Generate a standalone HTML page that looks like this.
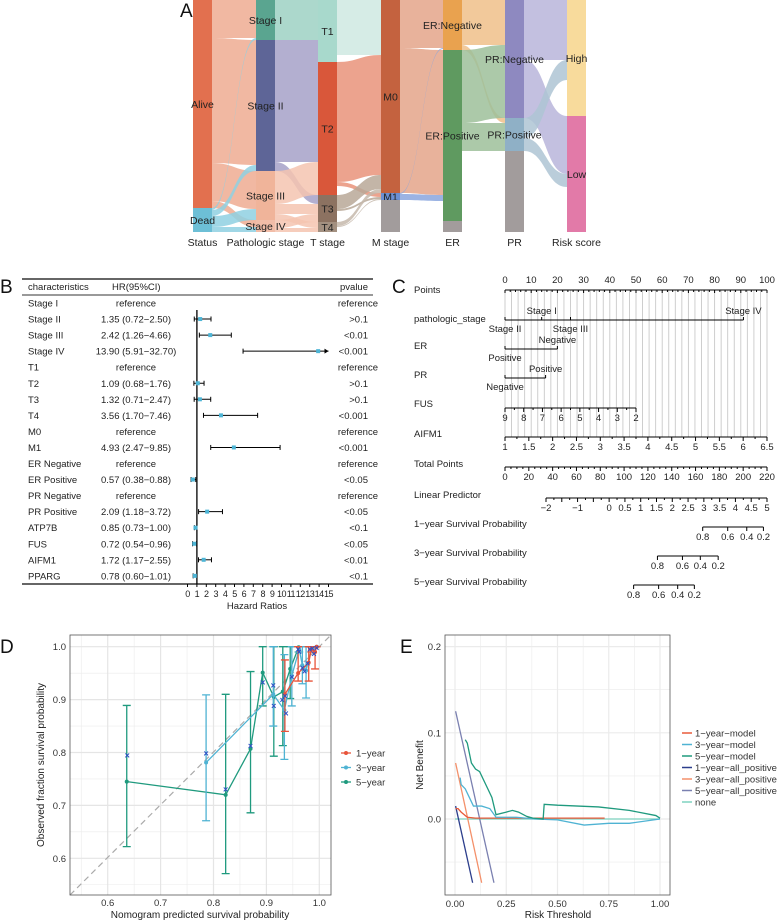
<!DOCTYPE html>
<html><head><meta charset="utf-8">
<style>
html,body{margin:0;padding:0;background:#fff}
svg{display:block;font-family:"Liberation Sans",Arial,sans-serif}
</style></head>
<body>
<svg id="fig" width="784" height="922" viewBox="0 0 784 922" xmlns="http://www.w3.org/2000/svg">
<g id="pA"></g>
<g id="pB"></g>
<g id="pC"></g>
<g id="pD"></g>
<g id="pE"></g>
</svg>
<script>
// ---------- Panel A data ----------
const sankeyColumns = ["Status","Pathologic stage","T stage","M stage","ER","PR","Risk score"];
const sankeyNodes = [
 [["Alive",208],["Dead",24]],
 [["Stage I",40],["Stage II",131],["Stage III",49],["Stage IV",12]],
 [["T1",62],["T2",133],["T3",27],["T4",10]],
 [["M0",193],["M1",7],["",32]],
 [["ER:Negative",50],["ER:Positive",171],["",11]],
 [["PR:Negative",118],["PR:Positive",33],["",81]],
 [["High",116],["Low",116]]
];
const sankeyFlows = [
 [[0,0,38],[0,1,125],[0,2,38],[0,3,7],[1,0,2],[1,1,6],[1,2,11],[1,3,5]],
 [[0,0,40],[1,0,22],[1,1,100],[1,2,9],[2,1,33],[2,2,10],[2,3,6],[3,2,8],[3,3,4]],
 [[0,0,55],[0,2,7],[1,0,120],[1,1,4],[1,2,9],[2,0,14],[2,1,2],[2,2,11],[3,0,4],[3,1,1],[3,2,5]],
 [[0,0,48],[0,1,145],[1,0,1],[1,1,6],[2,0,1],[2,1,20],[2,2,11]],
 [[0,0,45],[0,1,5],[1,0,73],[1,1,28],[1,2,70],[2,2,11]],
 [[0,0,60],[0,1,58],[1,0,20],[1,1,13],[2,0,36],[2,1,45]]
];
// ---------- Panel B data ----------
const forestNames = ["Stage I","Stage II","Stage III","Stage IV","T1","T2","T3","T4","M0","M1","ER Negative","ER Positive","PR Negative","PR Positive","ATP7B","FUS","AIFM1","PPARG"];
const forestHR = [null,1.35,2.42,13.90,null,1.09,1.32,3.56,null,4.93,null,0.57,null,2.09,0.85,0.72,1.72,0.78];
const forestLo = [null,0.72,1.26,5.91,null,0.68,0.71,1.70,null,2.47,null,0.38,null,1.18,0.73,0.54,1.17,0.60];
const forestHi = [null,2.50,4.66,32.70,null,1.76,2.47,7.46,null,9.85,null,0.88,null,3.72,1.00,0.96,2.55,1.01];
const forestP = ["reference",">0.1","<0.01","<0.001","reference",">0.1",">0.1","<0.001","reference","<0.001","reference","<0.05","reference","<0.05","<0.1","<0.05","<0.01","<0.1"];
const forestTicks = [0,1,2,3,4,5,6,7,8,9,10,11,12,13,14,15];
// ---------- Panel C data ----------
const stageLevels = ["Stage I","Stage II","Stage III","Stage IV"];
const stagePoints = [14,0,25,91];
const erLevels = ["Negative","Positive"], erPoints = [20,0];
const prLevels = ["Positive","Negative"], prPoints = [15.5,0];
const fusTicks = [9,8,7,6,5,4,3,2];
const aifm1Ticks = [1,1.5,2,2.5,3,3.5,4,4.5,5,5.5,6,6.5];
const totalTicks = [0,20,40,60,80,100,120,140,160,180,200,220];
const lpTicks = [-2,-1,0,0.5,1,1.5,2,2.5,3,3.5,4,4.5,5];
const survTicks = [0.8,0.6,0.4,0.2];
const surv1TP = [166,187,203,217];
const surv3TP = [128,149,164,179];
const surv5TP = [108,129,145,159];
// ---------- Panel D data ----------
const y5Pred = [0.636,0.823,0.870,0.893,0.914,0.931,0.945,0.961];
const y5Obs  = [0.745,0.720,0.807,0.951,0.905,0.915,0.958,0.999];
const y5Lo   = [0.622,0.571,0.686,0.888,0.793,0.813,0.902,0.990];
const y5Hi   = [0.889,0.910,0.953,1.000,1.000,1.000,1.000,1.000];
const y3Pred = [0.786,0.913,0.934,0.948,0.962,0.968,0.975,0.985,0.995];
const y3Obs  = [0.781,0.910,0.880,0.945,0.995,0.965,0.955,0.995,1.000];
const y3Lo   = [0.671,0.850,0.787,0.888,0.990,0.930,0.903,0.990,1.000];
const y3Hi   = [0.909,1.000,0.985,1.000,1.000,1.000,1.000,1.000,1.000];
const y1Pred = [0.935,0.960,0.980,0.985,0.992,0.995];
const y1Obs  = [0.910,0.950,0.970,0.995,0.990,1.000];
const y1Lo   = [0.840,0.935,0.935,0.990,0.958,1.000];
const y1Hi   = [0.975,1.000,1.000,1.000,1.000,1.000];
const corrX = [0.637,0.786,0.823,0.870,0.893,0.913,0.914,0.930,0.935,0.937,0.948,0.960,0.962,0.968,0.972,0.978,0.982,0.987,0.990,0.995];
const corrY = [0.794,0.798,0.730,0.812,0.932,0.927,0.888,0.899,0.907,0.874,0.943,0.995,0.990,0.960,0.953,0.968,0.995,0.997,0.986,0.998];
// ---------- Panel E data ----------
const dcaNames = ["1-year-model","3-year-model","5-year-model","1-year-all_positive","3-year-all_positive","5-year-all_positive","none"];
const m1X = [0.003,0.015,0.03,0.06,0.1,0.73], m1Y = [0.012,0.012,0.008,0.002,0.001,0.001];
const m3X = [0.025,0.03,0.05,0.07,0.09,0.13,0.17,0.2,0.3,0.39,0.5,0.63,0.75,0.85,1.0];
const m3Y = [0.048,0.040,0.035,0.025,0.015,0.015,0.012,0.002,0.002,0.000,-0.001,-0.007,-0.005,-0.005,0.0];
const m5X = [0.05,0.06,0.08,0.1,0.12,0.15,0.18,0.2,0.25,0.28,0.31,0.35,0.38,0.43,0.435,0.5,0.7,0.85,0.98,1.0];
const m5Y = [0.092,0.088,0.065,0.058,0.055,0.040,0.025,0.005,0.008,0.010,0.008,0.003,0.001,0.0,0.017,0.016,0.014,0.010,0.004,0.001];
const a1X = [0.003,0.086], a1Y = [0.015,-0.074];
const a3X = [0.003,0.13], a3Y = [0.065,-0.074];
const a5X = [0.003,0.19], a5Y = [0.125,-0.074];
const noneX = [0,1], noneY = [0,0];

const NS="http://www.w3.org/2000/svg";
function mk(parent,tag,attrs,text){const e=document.createElementNS(NS,tag);for(const k in attrs)e.setAttribute(k,attrs[k]);if(text!==undefined)e.textContent=text;parent.appendChild(e);return e;}
const pA=document.getElementById('pA'),pB=document.getElementById('pB'),pC=document.getElementById('pC'),pD=document.getElementById('pD'),pE=document.getElementById('pE');

// panel letters
[["A",180,17,pA],["B",0,293,pB],["C",392,293,pC],["D",0,653,pD],["E",400,653,pE]].forEach(l=>{
 const t=mk(l[3],'text',{x:l[1],y:l[2],'font-size':19,fill:'#111'},l[0]);
 
 
});

// ---------- Panel A ----------
(function(){
 const colX=[193,256,318,381,443,505,567], bw=19, top=0;
 const nodeColors=[["#e2704f","#6dbfd6"],["#5aa590","#5e6597","#f0b49a","#f2bda8"],["#a8d9cc","#d9573a","#8c7261","#a39080"],["#c4623f","#6b8fd2","#a29c9c"],["#e9a24f","#5f9a60","#a29c9c"],["#8e89c0","#8fb0c6","#a29c9c"],["#f8db9c","#e27aa8"]];
 const flowColors=[["#eeac92","#8fd0e2"],["#9dd1c3","#a6a1c8","#f4c4b0","#f4c4b0"],["#cfe9e2","#e9937a","#b9a898","#c5b8ac"],["#e4a489","#8aa6de","#fff"],["#f0c08a","#9dc09a","#fff"],["#b9b5da","#aec4d4","#fff"]];
 const pos=sankeyNodes.map(col=>{let y=top;return col.map(n=>{const p=[y,n[1]];y+=n[1];return p;});});
 sankeyFlows.forEach((fl,ci)=>{
  const sOff=pos[ci].map(p=>p[0]), tOff=pos[ci+1].map(p=>p[0]);
  const byT=fl.slice().sort((a,b)=>a[0]-b[0]);
  const tStart={};
  byT.forEach(f=>{tStart[f.join()]=tOff[f[1]];tOff[f[1]]+=f[2];});
  fl.slice().sort((a,b)=>a[0]-b[0]||a[1]-b[1]).forEach(f=>{
   const sy=sOff[f[0]]; sOff[f[0]]+=f[2];
   const ty=tStart[f.join()], h=f[2];
   const x0=colX[ci]+bw, x1=colX[ci+1], xm=(x0+x1)/2;
   const tgtNA = sankeyNodes[ci+1][f[1]][0]==="";
   const srcNA = sankeyNodes[ci][f[0]][0]==="";
   const p=mk(pA,'path',{d:`M${x0},${sy}C${xm},${sy} ${xm},${ty} ${x1},${ty}L${x1},${ty+h}C${xm},${ty+h} ${xm},${sy+h} ${x0},${sy+h}Z`,fill:flowColors[ci][f[0]],'fill-opacity':(tgtNA||srcNA)?0:0.85});
   
   
  });
 });
 sankeyNodes.forEach((col,ci)=>{
  col.forEach((n,ni)=>{
   const r=mk(pA,'rect',{x:colX[ci],y:pos[ci][ni][0],width:bw,height:n[1],fill:nodeColors[ci][ni]});
   
   
   if(n[0]){
    const t=mk(pA,'text',{x:colX[ci]+bw/2,y:pos[ci][ni][0]+n[1]/2+4,'font-size':10.5,'text-anchor':'middle',fill:'#222'},n[0]);
    
    
   }
  });
  const t=mk(pA,'text',{x:colX[ci]+bw/2,y:246,'font-size':10.5,'text-anchor':'middle',fill:'#222'},sankeyColumns[ci]);
  
  
 });
})();

// ---------- Panel B ----------
(function(){
 const x0=187.5, ux=9.4, hx=v=>x0+Math.min(v,15)*ux;
 const rowY=i=>303+i*16.05;
 [[279,1.6],[295,1],[584,1.6]].forEach(l=>{const e=mk(pB,'line',{x1:22,x2:373,y1:l[0],y2:l[0],stroke:'#333','stroke-width':l[1]});});
 [["characteristics",28,'start'],["HR(95%CI)",112,'start'],["pvalue",368,'end']].forEach(h=>{const t=mk(pB,'text',{x:h[1],y:290,'font-size':9.5,'text-anchor':h[2],fill:'#222'},h[0]);});
 const v=mk(pB,'line',{x1:hx(1),x2:hx(1),y1:310,y2:584,stroke:'#000','stroke-width':1.3});
 forestNames.forEach((nm,i)=>{
  const y=rowY(i);
  let t=mk(pB,'text',{x:28,y:y+3.5,'font-size':9.5,fill:'#222'},nm);
  const hrt=forestHR[i]===null?"reference":`${forestHR[i].toFixed(2)} (${forestLo[i].toFixed(2)}\u2212${forestHi[i].toFixed(2)})`;
  t=mk(pB,'text',{x:136,y:y+3.5,'font-size':9.5,'text-anchor':'middle',fill:'#222'},hrt);
  t=mk(pB,'text',{x:forestP[i]==="reference"?378:368,y:y+3.5,'font-size':9.5,'text-anchor':'end',fill:'#222'},forestP[i]);
  if(forestHR[i]!==null){
   const a=hx(forestLo[i]),b=hx(forestHi[i]);
   let e=mk(pB,'line',{x1:a,x2:b,y1:y,y2:y,stroke:'#000','stroke-width':1});
   e=mk(pB,'line',{x1:a,x2:a,y1:y-2.5,y2:y+2.5,stroke:'#000'});
   if(forestHi[i]>15){e=mk(pB,'path',{d:`M${b},${y}l-4,-2.5v5z`,fill:'#000'});}
   else e=mk(pB,'line',{x1:b,x2:b,y1:y-2.5,y2:y+2.5,stroke:'#000'});
   
   e=mk(pB,'rect',{x:hx(forestHR[i])-2,y:y-2,width:4,height:4,fill:'#4db5d6'});
  }
 });
 forestTicks.forEach(tk=>{
  let e=mk(pB,'line',{x1:hx(tk),x2:hx(tk),y1:584,y2:587,stroke:'#000'});
  e=mk(pB,'text',{x:hx(tk),y:597,'font-size':9,'text-anchor':'middle',fill:'#222','letter-spacing':'-0.5'},tk);
 });
 const t=mk(pB,'text',{x:257,y:609,'font-size':9.5,'text-anchor':'middle',fill:'#222'},"Hazard Ratios");
})();

// ---------- Panel C ----------
(function(){
 const px=p=>505+p*2.62, tpx=t=>505+t*262/220, lpx=l=>546+(l+2)*31.57;
 const lbl=(x,y,s,a,name)=>{const t=mk(pC,'text',{x:x,y:y,'font-size':9.5,'text-anchor':a||'middle',fill:'#222'},s);return t;};
 const line=(x1,y1,x2,y2,st,w,name)=>{const e=mk(pC,'line',{x1:x1,y1:y1,x2:x2,y2:y2,stroke:st||'#000','stroke-width':w||1});return e;};
 for(let p=0;p<=100;p+=2.5) line(px(p),290,px(p),437,'#c9c9c9',0.9,'grid-line');
 const rows=[["Points",293],["pathologic_stage",322],["ER",349],["PR",378],["FUS",407],["AIFM1",437],["Total Points",467],["Linear Predictor",498],["1\u2212year Survival Probability",527],["3\u2212year Survival Probability",556],["5\u2212year Survival Probability",585]];
 rows.forEach(r=>lbl(414,r[1],r[0],'start','row-label'));
 line(px(0),290,px(100),290);
 for(let p=0;p<=100;p+=2){line(px(p),290,px(p),p%10===0?293:292);}
 for(let p=0;p<=100;p+=10)lbl(px(p),283,p);
 // pathologic stage
 line(px(0),320,px(Math.max(...stagePoints)),320);
 stageLevels.forEach((s,i)=>{line(px(stagePoints[i]),320,px(stagePoints[i]),317);const above=(i===0||i===3);lbl(px(stagePoints[i]),above?314:332,s);});
 line(px(0),349,px(Math.max(...erPoints)),349);
 erLevels.forEach((s,i)=>{line(px(erPoints[i]),349,px(erPoints[i]),346);lbl(px(erPoints[i]),i===0?343:361,s);});
 line(px(0),378,px(Math.max(...prPoints)),378);
 prLevels.forEach((s,i)=>{line(px(prPoints[i]),378,px(prPoints[i]),375);lbl(px(prPoints[i]),i===0?372:390,s);});
 const fusPx=v=>px((9-v)*50/7);
 line(fusPx(9),408,fusPx(2),408);
 for(let v=9;v>=2;v-=0.5)line(fusPx(v),408,fusPx(v),v%1===0?412:410);
 fusTicks.forEach(v=>lbl(fusPx(v),421,v));
 const aPx=v=>px((v-1)*100/5.5);
 line(aPx(1),437,aPx(6.5),437);
 for(let v=1;v<=6.5;v+=0.25)line(aPx(v),437,aPx(v),v%0.5===0?441:439);
 aifm1Ticks.forEach(v=>lbl(aPx(v),450,v));
 line(tpx(0),467,tpx(220),467);
 for(let v=0;v<=220;v+=5)line(tpx(v),467,tpx(v),v%20===0?471:469);
 totalTicks.forEach(v=>lbl(tpx(v),480,v));
 line(lpx(-2),498,lpx(5),498);
 for(let v=-2;v<=5;v+=0.25)line(lpx(v),498,lpx(v),v%0.5===0?502:500);
 lpTicks.forEach(v=>lbl(lpx(v),511,v<0?'\u2212'+Math.abs(v):v));
 [[surv1TP,527],[surv3TP,556],[surv5TP,585]].forEach(s=>{
  line(tpx(s[0][0]),s[1],tpx(s[0][s[0].length-1]),s[1]);
  survTicks.forEach((v,i)=>{line(tpx(s[0][i]),s[1],tpx(s[0][i]),s[1]+4);lbl(tpx(s[0][i]),s[1]+13,v);});
 });
})();

// ---------- Panel D ----------
(function(){
 const L=70,R=331,T=635,B=895, sx=v=>107.7+(v-0.6)*529, sy=v=>858.3-(v-0.6)*529;
 let e=mk(pD,'rect',{x:L,y:T,width:R-L,height:B-T,fill:'#fff'});
 const g=(x1,y1,x2,y2,w,c)=>{const l=mk(pD,'line',{x1:x1,y1:y1,x2:x2,y2:y2,stroke:c||'#ebebeb','stroke-width':w});};
 [0.55,0.65,0.75,0.85,0.95].forEach(v=>{g(sx(v),T,sx(v),B,0.6);g(L,sy(v),R,sy(v),0.6);});
 [0.6,0.7,0.8,0.9,1.0].forEach(v=>{g(sx(v),T,sx(v),B,1.2,'#e5e5e5');g(L,sy(v),R,sy(v),1.2,'#e5e5e5');});
 e=mk(pD,'line',{x1:L,y1:B,x2:R,y2:T,stroke:'#aaa','stroke-width':1.2,'stroke-dasharray':'6,4'});
 const series=[[y5Pred,y5Obs,y5Lo,y5Hi,'#1f9a7e','5-year'],[y3Pred,y3Obs,y3Lo,y3Hi,'#4fb3d3','3-year'],[y1Pred,y1Obs,y1Lo,y1Hi,'#e8543a','1-year']];
 series.forEach(s=>{
  s[0].forEach((x,i)=>{
   let l=mk(pD,'path',{d:`M${sx(x)-4},${sy(s[2][i])}h8M${sx(x)},${sy(s[2][i])}V${sy(s[3][i])}M${sx(x)-4},${sy(s[3][i])}h8`,stroke:s[4],'stroke-width':1.3,fill:'none'});
   
   
  });
  const p=mk(pD,'polyline',{points:s[0].map((x,i)=>sx(x)+','+sy(s[1][i])).join(' '),fill:'none',stroke:s[4],'stroke-width':1.3});
  
  
  s[0].forEach((x,i)=>{const c=mk(pD,'circle',{cx:sx(x),cy:sy(s[1][i]),r:2,fill:s[4]});});
 });
 corrX.forEach((x,i)=>{const m=mk(pD,'text',{x:sx(x),y:sy(corrY[i])+3,'font-size':9,'font-weight':'bold','text-anchor':'middle',fill:'#2d4fc4'},'\u00d7');});
 e=mk(pD,'rect',{x:L,y:T,width:R-L,height:B-T,fill:'none',stroke:'#555','stroke-width':0.8});
 [0.6,0.7,0.8,0.9,1.0].forEach(v=>{
  let t=mk(pD,'text',{x:66,y:sy(v)+3.5,'font-size':9.5,'text-anchor':'end',fill:'#333'},v.toFixed(1));
  t=mk(pD,'text',{x:sx(v),y:906,'font-size':9.5,'text-anchor':'middle',fill:'#333'},v.toFixed(1));
 });
 let t=mk(pD,'text',{x:200,y:918,'font-size':10,'text-anchor':'middle',fill:'#222'},"Nomogram predicted survival probability");
 t=mk(pD,'text',{x:0,y:0,'font-size':10,'text-anchor':'middle',fill:'#222',transform:'translate(44,765) rotate(-90)'},"Observed fraction survival probability");
 [['1\u2212year','#e8543a'],['3\u2212year','#4fb3d3'],['5\u2212year','#1f9a7e']].forEach((l,i)=>{
  const y=753+i*14.5;
  let e2=mk(pD,'line',{x1:341,x2:351,y1:y,y2:y,stroke:l[1],'stroke-width':1.3});
  e2=mk(pD,'circle',{cx:346,cy:y,r:2,fill:l[1]});
  e2=mk(pD,'text',{x:356,y:y+3.5,'font-size':9.5,fill:'#333'},l[0]);
 });
})();

// ---------- Panel E ----------
(function(){
 const L=445,R=670,T=635,B=895, sx=v=>455+v*205, sy=v=>819-v*862;
 const g=(x1,y1,x2,y2,w)=>{const l=mk(pE,'line',{x1:x1,y1:y1,x2:x2,y2:y2,stroke:'#ebebeb','stroke-width':w});};
 [0.125,0.375,0.625,0.875].forEach(v=>g(sx(v),T,sx(v),B,0.6));
 [0.15,0.05,-0.05].forEach(v=>g(L,sy(v),R,sy(v),0.6));
 [0,0.25,0.5,0.75,1].forEach(v=>g(sx(v),T,sx(v),B,1.2));
 [0.2,0.1,0].forEach(v=>g(L,sy(v),R,sy(v),1.2));
 const colors=['#e85a3a','#4fb3d3','#1f9a7e','#2c3e8c','#f4906a','#7a80b0','#7fd3c0'];
 const data=[[noneX,noneY,6],[a1X,a1Y,3],[a3X,a3Y,4],[a5X,a5Y,5],[m1X,m1Y,0],[m3X,m3Y,1],[m5X,m5Y,2]];
 data.forEach(d=>{
  const p=mk(pE,'polyline',{points:d[0].map((x,i)=>sx(x)+','+sy(d[1][i])).join(' '),fill:'none',stroke:colors[d[2]],'stroke-width':1.3});
  
  
 });
 let e=mk(pE,'rect',{x:L,y:T,width:R-L,height:B-T,fill:'none',stroke:'#555','stroke-width':0.8});
 [0.2,0.1,0].forEach(v=>{const t=mk(pE,'text',{x:441,y:sy(v)+3.5,'font-size':9.5,'text-anchor':'end',fill:'#333'},v.toFixed(1));});
 [0,0.25,0.5,0.75,1].forEach(v=>{const t=mk(pE,'text',{x:sx(v),y:907,'font-size':9.5,'text-anchor':'middle',fill:'#333'},v.toFixed(2));});
 let t=mk(pE,'text',{x:558,y:918,'font-size':10,'text-anchor':'middle',fill:'#222'},"Risk Threshold");
 t=mk(pE,'text',{x:0,y:0,'font-size':10,'text-anchor':'middle',fill:'#222',transform:'translate(423,765) rotate(-90)'},"Net Benefit");
 dcaNames.forEach((n,i)=>{
  const y=733+i*11.5;
  let k=mk(pE,'line',{x1:682,x2:692,y1:y,y2:y,stroke:colors[i],'stroke-width':1.5});
  k=mk(pE,'text',{x:695,y:y+3.5,'font-size':9.5,fill:'#333'},n.replace(/-/g,'\u2212'));
 });
})();
</script>
</body></html>
